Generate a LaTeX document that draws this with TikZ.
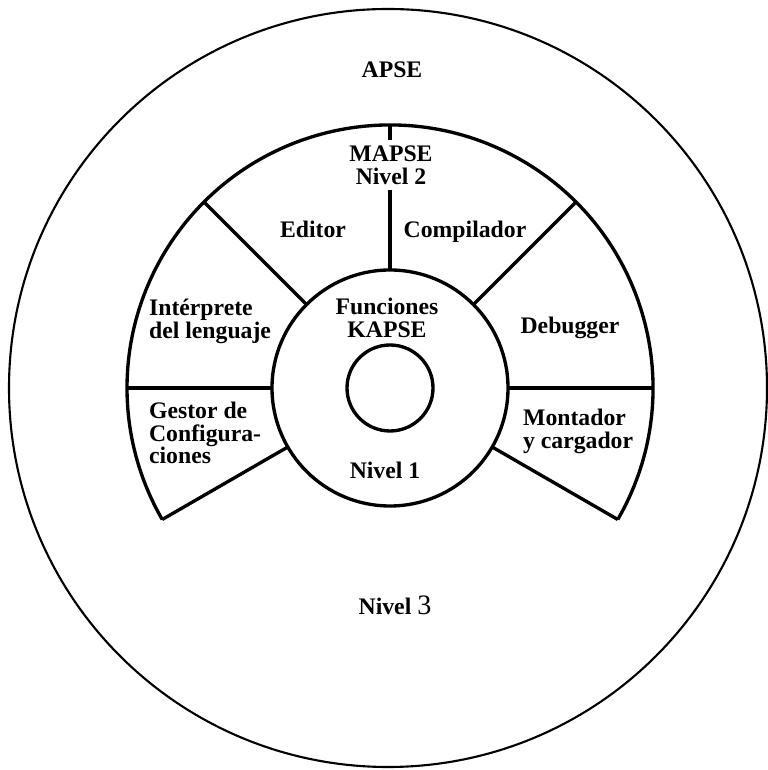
\documentclass[tikz,border=0pt]{standalone}
\usepackage{fontspec}
\setmainfont{Liberation Serif}
\usetikzlibrary{calc}
\tikzset{
  lbl/.style={font=\fontsize{13.5}{13}\selectfont\bfseries, inner sep=1pt},
  ring/.style={line width=1.9pt},
}
\begin{document}
\begin{tikzpicture}[x=0.02cm, y=0.02cm]
            \useasboundingbox ( 0, 0 ) rectangle ( 767, 770 );
            \coordinate (c) at ( 390, 382 );

            % APSE
            \draw [line width=1.2pt] ( 388, 382 ) circle ( 379 );
            \node [lbl] (apse) at ( 392, 700 ) {APSE};
            \node [lbl] (nivel3) at ( 395, 165 ) {Nivel {\mdseries\fontsize{16}{16}\selectfont 3}};

            % MAPSE
            \draw [ring] (c) ++( -30:263 ) arc [start angle=-30, end angle=210, radius=263];
            \draw [ring] (c) ++( 0:118 ) -- ++( 0:145 );
            \draw [ring] (c) ++( 45:118 ) -- ++( 45:145 );
            \draw [ring] (c) ++( 90:118 ) -- ++( 90:145 );
            \draw [ring] (c) ++( 135:118 ) -- ++( 135:145 );
            \draw [ring] (c) ++( 180:118 ) -- ++( 180:145 );
            \draw [ring] (c) ++( 210:118 ) -- ++( 210:145 );
            \draw [ring] (c) ++( -30:118 ) -- ++( -30:145 );

            \node [lbl, fill=white, align=center, inner sep=3pt] (mapse) at ( 391, 605 ) {MAPSE\\Nivel 2};
            \node [lbl] (editor) at ( 313, 541 ) {Editor};
            \node [lbl] (compilador) at ( 465, 538 ) {Compilador};
            \node [lbl, align=left, anchor=west] (interprete) at ( 147, 449 ) {Int\'erprete\\del lenguaje};
            \node [lbl] (debugger) at ( 570, 442 ) {Debugger};
            \node [lbl, align=left, anchor=west] (gestor) at ( 147, 337 ) {Gestor de\\Configura-\\ciones};
            \node [lbl, align=left, anchor=west] (montador) at ( 521, 339 ) {Montador\\y cargador};

            % KAPSE
            \draw [ring] (c) circle ( 118 );
            \draw [ring] (c) circle ( 43 );
            \node [lbl, align=center] (kapse) at ( 387, 452 ) {Funciones\\KAPSE};
            \node [lbl] (nivel1) at ( 385, 300 ) {Nivel 1};
\end{tikzpicture}
\end{document}
